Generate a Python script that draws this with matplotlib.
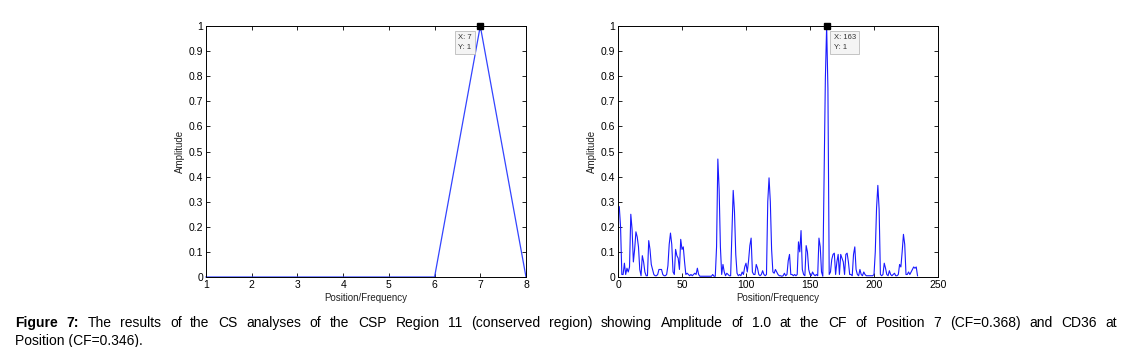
import matplotlib
matplotlib.use("Agg")
import matplotlib.pyplot as plt
import numpy as np

plt.rcParams['font.family'] = ['Liberation Sans', 'DejaVu Sans']

# left panel: position 7 peak
left_x = [1, 2, 3, 4, 5, 6, 7, 8]
left_y = [0, 0, 0, 0, 0, 0, 1, 0]

# right panel: amplitude per position 1..234
right_y = [
    0.28, 0.2, 0.01, 0.01, 0.055, 0.01, 0.035, 0.02, 0.04, 0.25,
    0.19, 0.06, 0.11, 0.18, 0.16, 0.12, 0.03, 0.005, 0.085, 0.06,
    0.02, 0.005, 0.005, 0.145, 0.11, 0.05, 0.03, 0.01, 0.005, 0.005,
    0.01, 0.03, 0.03, 0.03, 0.01, 0.005, 0.005, 0.01, 0.045, 0.13,
    0.175, 0.13, 0.02, 0.01, 0.11, 0.085, 0.075, 0.03, 0.15, 0.11,
    0.12, 0.06, 0.01, 0.015, 0.01, 0.005, 0.01, 0.005, 0.01, 0.015,
    0.01, 0.035, 0.01, 0.003, 0.003, 0.003, 0.003, 0.003, 0.003, 0.003,
    0.003, 0.003, 0.003, 0.01, 0.003, 0.003, 0.12, 0.47, 0.35, 0.12,
    0.01, 0.05, 0.02, 0.005, 0.015, 0.01, 0.005, 0.005, 0.17, 0.345,
    0.26, 0.09, 0.015, 0.005, 0.01, 0.005, 0.02, 0.01, 0.04, 0.055,
    0.02, 0.065, 0.125, 0.155, 0.02, 0.01, 0.01, 0.05, 0.035, 0.01,
    0.005, 0.01, 0.025, 0.01, 0.005, 0.01, 0.3, 0.395, 0.3, 0.11,
    0.02, 0.015, 0.03, 0.02, 0.01, 0.005, 0.005, 0.003, 0.005, 0.015,
    0.005, 0.01, 0.065, 0.09, 0.01, 0.01, 0.005, 0.01, 0.005, 0.01,
    0.14, 0.1, 0.185, 0.03, 0.01, 0.005, 0.125, 0.1, 0.03, 0.01,
    0.005, 0.02, 0.01, 0.005, 0.01, 0.005, 0.155, 0.12, 0.02, 0.003,
    0.39, 0.79, 1.0, 0.75, 0.01, 0.02, 0.07, 0.09, 0.095, 0.01,
    0.06, 0.09, 0.01, 0.09, 0.075, 0.06, 0.01, 0.09, 0.095, 0.06,
    0.01, 0.01, 0.005, 0.09, 0.12, 0.03, 0.01, 0.005, 0.03, 0.01,
    0.005, 0.02, 0.01, 0.005, 0.005, 0.005, 0.005, 0.005, 0.005, 0.01,
    0.1, 0.275, 0.365, 0.27, 0.01, 0.005, 0.01, 0.055, 0.035, 0.01,
    0.005, 0.025, 0.01, 0.005, 0.01, 0.015, 0.005, 0.005, 0.01, 0.05,
    0.04, 0.1, 0.17, 0.13, 0.01, 0.01, 0.02, 0.01, 0.02, 0.03,
    0.04, 0.035, 0.04, 0.005,
]
right_x = np.arange(1, len(right_y) + 1)

W, H = 1127, 347
fig = plt.figure(figsize=(W / 100, H / 100), dpi=100)
ax1 = fig.add_axes([206 / W, 70 / H, 320 / W, 251 / H])
ax2 = fig.add_axes([618 / W, 70 / H, 320 / W, 251 / H])


def style(ax, xlim, xticks):
    ax.set_xlim(*xlim)
    ax.set_ylim(0, 1)
    ax.set_xticks(xticks)
    ax.set_xticklabels([str(t) for t in xticks])
    yt = np.round(np.arange(0, 1.01, 0.1), 1)
    ax.set_yticks(yt)
    ax.set_yticklabels(['0'] + ['%.1f' % v for v in yt[1:-1]] + ['1'])
    ax.tick_params(direction='in', top=True, right=True, length=3,
                   width=0.6, labelsize=7.5, pad=2)
    for s in ax.spines.values():
        s.set_linewidth(0.7)
    ax.set_xlabel('Position/Frequency', fontsize=7, labelpad=2, color='#222')
    ax.set_ylabel('Amplitude', fontsize=7, labelpad=3, color='#222')


tip = dict(boxstyle='square,pad=0.45', fc='#f4f4f4', ec='#bbbbbb', lw=0.6)

ax1.plot(left_x, left_y, color='#3344ff', lw=0.9, clip_on=False)
style(ax1, (1, 8), [1, 2, 3, 4, 5, 6, 7, 8])
ax1.plot([7], [1], 's', color='black', ms=5, clip_on=False, zorder=5)
ax1.text(6.52, 0.968, 'X: 7\nY: 1', fontsize=5.5, va='top', ha='left',
         linespacing=1.55, color='#333', bbox=tip)

ax2.plot(right_x, right_y, color='#1a1aff', lw=0.8, clip_on=False)
style(ax2, (0, 250), [0, 50, 100, 150, 200, 250])
ax2.plot([163], [1], 's', color='black', ms=5, clip_on=False, zorder=5)
ax2.text(168.5, 0.968, 'X: 163\nY: 1', fontsize=5.5, va='top', ha='left',
         linespacing=1.55, color='#333', bbox=tip)

# caption, first line justified to the right edge
cap1 = ('The results of the CS analyses of the CSP Region 11 (conserved region) '
        'showing Amplitude of 1.0 at the CF of Position 7 (CF=0.368) and CD36 at')
cap2 = 'Position (CF=0.346).'
fs = 10
y1 = 1 - 323 / H
y2 = 1 - 341 / H
fig.canvas.draw()
r = fig.canvas.get_renderer()
words = [('Figure', 'bold'), ('7:', 'bold')] + [(w, 'normal') for w in cap1.split()]
arts = []
total = 0
for w, wt in words:
    t = fig.text(0, y1, w, fontsize=fs, fontweight=wt, va='center', ha='left')
    arts.append(t)
    total += t.get_window_extent(r).width
gap = (1117 - 15 - total) / (len(arts) - 1)
x = 15
for t in arts:
    t.set_x(x / W)
    x += t.get_window_extent(r).width + gap
fig.text(15 / W, y2, cap2, fontsize=fs, va='center', ha='left')

fig.savefig('out.png', dpi=100)
